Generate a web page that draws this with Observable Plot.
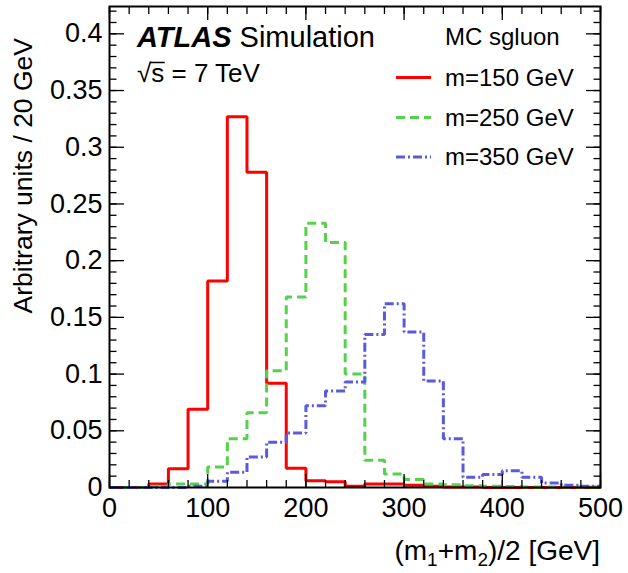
<!DOCTYPE html>
<html><head><meta charset="utf-8">
<script src="https://cdn.jsdelivr.net/npm/d3@7"></script>
<script src="https://cdn.jsdelivr.net/npm/@observablehq/plot@0.6"></script>
<style>
body{margin:0;background:#fff}
#chart{position:relative;width:628px;height:573px}
</style>
</head><body><div id="chart"></div>
<script>
// bin edges (GeV), 20 GeV bins
const binEdges = [0,20,40,60,80,100,120,140,160,180,200,220,240,260,280,300,320,340,360,380,400,420,440,460,480,500];
// normalised contents per bin (lower edge order)
const m150 = [0,0,0.003,0.0165,0.069,0.182,0.327,0.278,0.092,0.017,0.006,0.005,0.001,0.003,0.003,0.002,0.001,0.0005,0.0005,0,0,0,0,0,0];
const m250 = [0,0,0.001,0.003,0.003,0.018,0.043,0.066,0.103,0.168,0.233,0.216,0.100,0.024,0.012,0.007,0.003,0.0024,0.0015,0.001,0.0008,0.0005,0.0005,0.0005,0.0005];
const m350 = [0,0,0,0,0.001,0.0056,0.0135,0.027,0.040,0.048,0.072,0.085,0.093,0.135,0.162,0.137,0.094,0.043,0.009,0.0115,0.0147,0.009,0.004,0.002,0.001];
const seriesNames = ["m=150 GeV","m=250 GeV","m=350 GeV"];
const seriesColors = ["#ff0000","#55d14a","#5a5ade"];
const seriesDash = ["none","9,5","9,3,2,3"];
const xMajor = [0,100,200,300,400,500];
const xMinor = [0,20,40,60,80,100,120,140,160,180,200,220,240,260,280,300,320,340,360,380,400,420,440,460,480,500];
const yMajor = [0,0.05,0.1,0.15,0.2,0.25,0.3,0.35,0.4];
const yMinor = [0,0.01,0.02,0.03,0.04,0.05,0.06,0.07,0.08,0.09,0.1,0.11,0.12,0.13,0.14,0.15,0.16,0.17,0.18,0.19,0.2,0.21,0.22,0.23,0.24,0.25,0.26,0.27,0.28,0.29,0.3,0.31,0.32,0.33,0.34,0.35,0.36,0.37,0.38,0.39,0.4,0.41,0.42];

const font = "'Liberation Sans', Arial, Helvetica, sans-serif";
const allSeries = [m150, m250, m350];
const rows = allSeries.map((vals, k) => binEdges.map((e, i) => ({x: e, y: vals[Math.min(i, vals.length - 1)], s: seriesNames[k]})));

const tickStyle = {stroke: "black", strokeWidth: 1.3, tickFormat: () => "", label: null};

const chart = Plot.plot({
  width: 628, height: 573,
  marginLeft: 109, marginRight: 28, marginTop: 6, marginBottom: 86,
  style: {fontFamily: font, fontSize: "27px", color: "black", background: "white", overflow: "visible"},
  x: {domain: [0, 500]},
  y: {domain: [0, 0.4241]},
  marks: [
    // histograms
    ...rows.map((r, k) => Plot.line(r, {x: "x", y: "y", curve: "step-after", stroke: seriesColors[k], strokeWidth: 3, strokeDasharray: seriesDash[k], strokeLinejoin: "miter", strokeLinecap: "butt"})),
    // inward ticks: left / right
    Plot.axisY({...tickStyle, ticks: yMajor, anchor: "left", tickSize: 15, dx: 15}),
    Plot.axisY({...tickStyle, ticks: yMinor, anchor: "left", tickSize: 7.5, dx: 7.5}),
    Plot.axisY({...tickStyle, ticks: yMajor, anchor: "right", tickSize: 15, dx: -15}),
    Plot.axisY({...tickStyle, ticks: yMinor, anchor: "right", tickSize: 7.5, dx: -7.5}),
    // inward ticks: bottom / top
    Plot.axisX({...tickStyle, ticks: xMajor, anchor: "bottom", tickSize: 13, dy: -13}),
    Plot.axisX({...tickStyle, ticks: xMinor, anchor: "bottom", tickSize: 7, dy: -7}),
    Plot.axisX({...tickStyle, ticks: xMajor, anchor: "top", tickSize: 13, dy: 13}),
    Plot.axisX({...tickStyle, ticks: xMinor, anchor: "top", tickSize: 7, dy: 7}),
    // labels
    Plot.axisY({ticks: yMajor, anchor: "left", tickSize: 0, tickPadding: 7, tickFormat: d => String(d), fontSize: 27, label: null}),
    Plot.axisX({ticks: xMajor, anchor: "bottom", tickSize: 0, tickPadding: 10, tickFormat: d => String(d), fontSize: 27, label: null}),
    Plot.frame({stroke: "black", strokeWidth: 2})
  ]
});
document.getElementById("chart").appendChild(chart);

const svg = d3.select(chart);
const g = svg.append("g").attr("font-family", font).attr("fill", "black").attr("text-anchor", "start");

// axis titles
g.append("text").attr("transform", "translate(32,38) rotate(-90)").attr("text-anchor", "end")
  .attr("font-size", 26.5).text("Arbitrary units / 20 GeV");
const xt = g.append("text").attr("x", 600).attr("y", 560).attr("text-anchor", "end").attr("font-size", 28);
xt.append("tspan").text("(m");
xt.append("tspan").attr("dy", 6).attr("font-size", 19).text("1");
xt.append("tspan").attr("dy", -6).text("+m");
xt.append("tspan").attr("dy", 6).attr("font-size", 19).text("2");
xt.append("tspan").attr("dy", -6).text(")/2 [GeV]");

// ATLAS label
const at = g.append("text").attr("x", 137).attr("y", 47).attr("font-size", 29);
at.append("tspan").attr("font-weight", "bold").attr("font-style", "italic").text("ATLAS");
at.append("tspan").text(" Simulation");
const sq = g.append("text").attr("x", 137).attr("y", 82).attr("font-size", 26).text("\u221As = 7 TeV");
// overline on the "s" under the root sign
try {
  const node = sq.node();
  const p0 = node.getStartPositionOfChar(1), p1 = node.getEndPositionOfChar(1);
  g.append("line").attr("x1", p0.x - 1).attr("x2", p1.x + 0.5).attr("y1", 62.5).attr("y2", 62.5)
    .attr("stroke", "black").attr("stroke-width", 1.5);
} catch (e) {}

// legend
g.append("text").attr("x", 445).attr("y", 45).attr("font-size", 24).text("MC sgluon");
const legY = [77.5, 117.5, 157];
seriesNames.forEach((name, k) => {
  g.append("line").attr("x1", 396).attr("x2", 431).attr("y1", legY[k]).attr("y2", legY[k])
    .attr("stroke", seriesColors[k]).attr("stroke-width", 3).attr("stroke-dasharray", seriesDash[k]);
  g.append("text").attr("x", 445).attr("y", legY[k] + 8).attr("font-size", 24).text(name);
});
</script>
</body></html>
